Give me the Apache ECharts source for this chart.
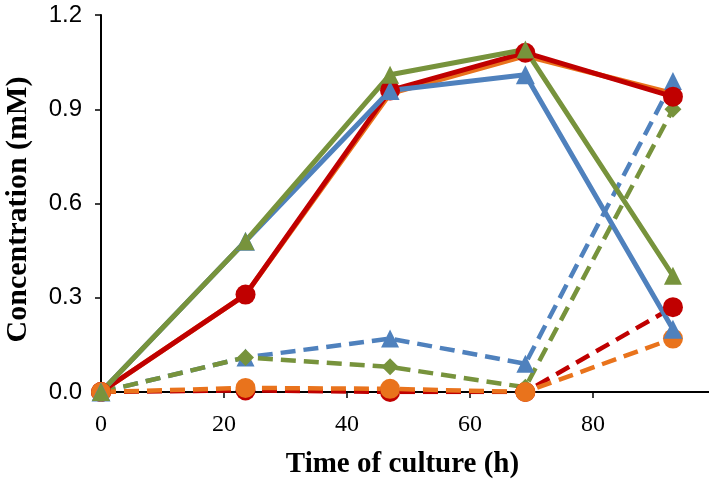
<!DOCTYPE html>
<html>
<head>
<meta charset="utf-8">
<script src="https://cdn.jsdelivr.net/npm/echarts@6/dist/echarts.min.js"></script>
<style>html,body{margin:0;padding:0;background:#fff}#c{width:709px;height:482px}</style>
</head>
<body>
<div id="c"></div>
<script>
const times = [0, 23.5, 47, 69, 93];
const yTicks = [0, 0.3, 0.6, 0.9, 1.2];
const xTicks = [0, 20, 40, 60, 80];

// solid lines
const orangeSolid = [0, 0.31, 0.95, 1.07, 0.95];
const blueSolid   = [0, 0.48, 0.96, 1.01, 0.20];
const redSolid    = [0, 0.31, 0.96, 1.08, 0.94];
const greenSolid  = [0, 0.48, 1.01, 1.09, 0.37];
// dashed lines
const redDashed    = [0, 0.005, 0.0, 0.0, 0.27];
const orangeDashed = [0, 0.013, 0.01, 0.0, 0.17];
const greenDashed  = [0, 0.11, 0.08, 0.015, 0.90];
const blueDashed   = [0, 0.11, 0.17, 0.09, 0.99];

const C = {blue:'#4F81BD', red:'#C00000', green:'#77933C', orange:'#E9731C'};

function pairs(vals){ return times.map((t,i)=>[t, vals[i]]); }
function s(name, vals, color, dashed, symbol, size){
  return {
    name, type:'line', data: pairs(vals), symbol, symbolSize:size,
    itemStyle:{color},
    lineStyle:{color, width: dashed?4.5:5, type: dashed?[15,8]:'solid'},
    animation:false
  };
}

const chart = echarts.init(document.getElementById('c'));
chart.setOption({
  animation:false,
  grid:{left:101, top:15, width:615, height:377, containLabel:false, outerBoundsMode:'none'},
  xAxis:{
    type:'value', min:0, max:100, interval:20,
    axisLine:{lineStyle:{color:'#000', width:2}},
    axisTick:{show:true, length:6, lineStyle:{color:'#000', width:1.5}},
    axisLabel:{showMaxLabel:false, fontFamily:'Liberation Serif', fontSize:24, color:'#000', margin:21,
      formatter: v => xTicks.includes(v) ? String(v) : ''},
    splitLine:{show:false},
    name:'Time of culture (h)', nameLocation:'middle', nameGap:58,
    nameTextStyle:{fontFamily:'Liberation Serif', fontWeight:'bold', fontSize:29, color:'#000', padding:[0,12,0,0]}
  },
  yAxis:{
    type:'value', min:0, max:1.2, interval:0.3,
    axisLine:{show:true, lineStyle:{color:'#000', width:2}},
    axisTick:{show:true, length:6, lineStyle:{color:'#000', width:1.5}},
    axisLabel:{fontFamily:'Liberation Sans', fontSize:24, color:'#000', margin:19,
      formatter: v => { const t = yTicks.find(x=>Math.abs(x-v)<1e-9); return t===undefined?'':t.toFixed(1);} },
    splitLine:{show:false},
    name:'Concentration (mM)', nameLocation:'middle', nameGap:68, nameRotate:90,
    nameTextStyle:{fontFamily:'Liberation Serif', fontWeight:'bold', fontSize:30, color:'#000', padding:[0,12,0,0]}
  },
  series:[
    s('redDashed', redDashed, C.red, true, 'circle', 20),
    s('blueDashed', blueDashed, C.blue, true, 'triangle', 18),
    s('greenDashed', greenDashed, C.green, true, 'diamond', 17),
    s('orangeSolid', orangeSolid, C.orange, false, 'none', 0),
    s('redSolid', redSolid, C.red, false, 'circle', 20),
    s('orangeDashed', orangeDashed, C.orange, true, 'circle', 20),
    s('blueSolid', blueSolid, C.blue, false, 'triangle', 19),
    s('greenSolid', greenSolid, C.green, false, 'triangle', 18)
  ]
});
</script>
</body>
</html>
